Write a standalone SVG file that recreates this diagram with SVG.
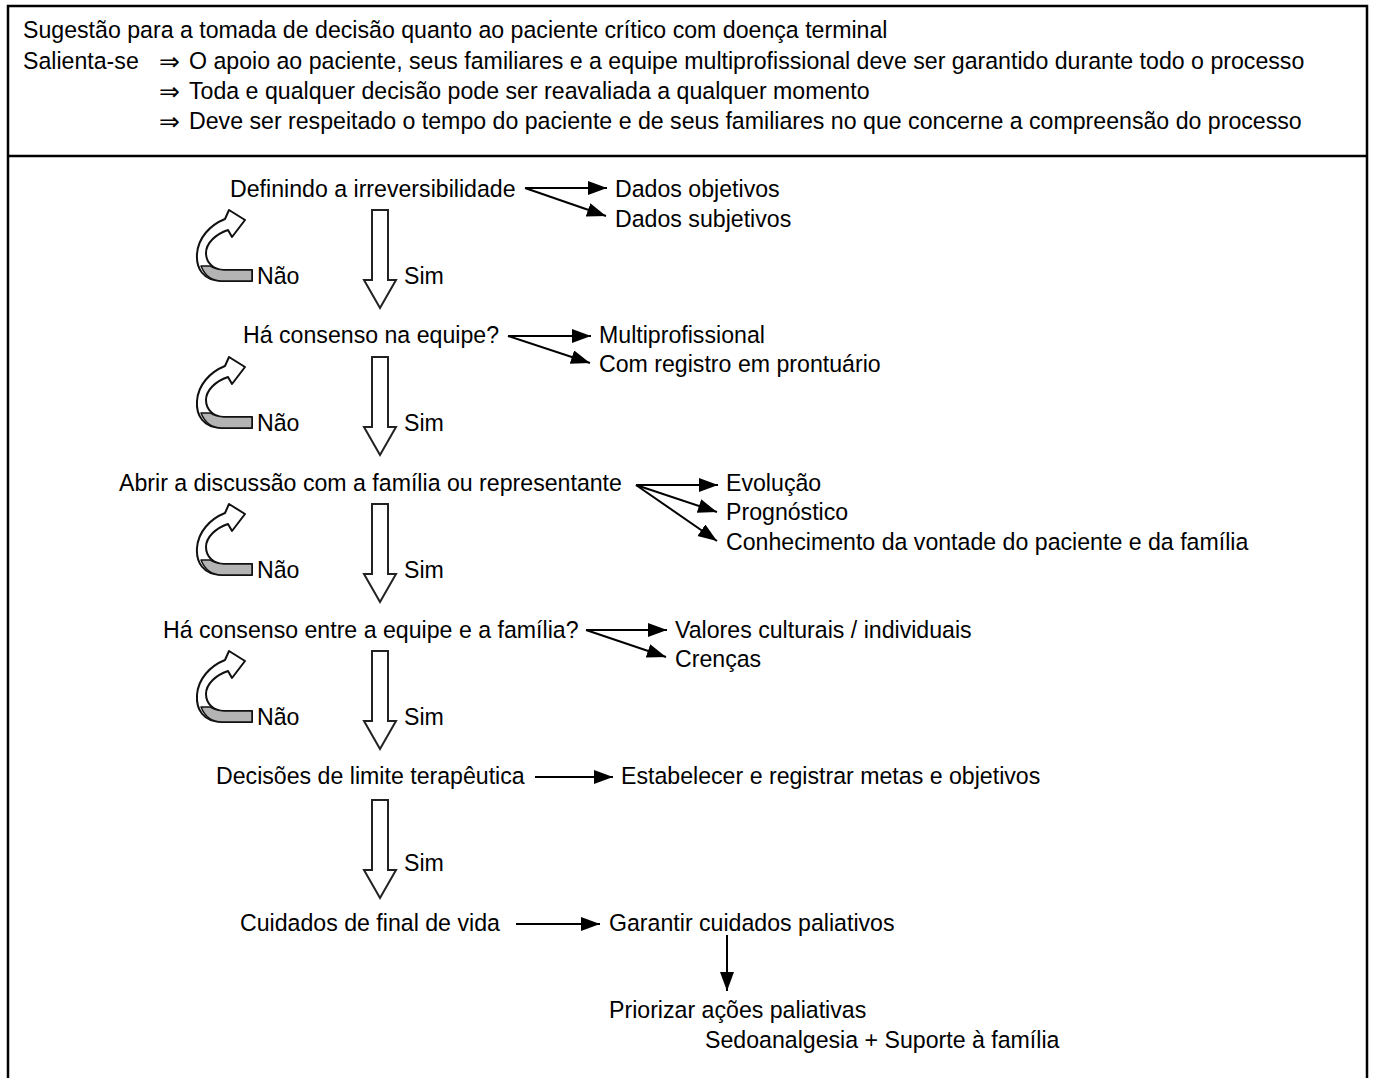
<svg xmlns="http://www.w3.org/2000/svg" xmlns:xlink="http://www.w3.org/1999/xlink" width="1373" height="1078" viewBox="0 0 1373 1078">
<style>
text{font-family:"Liberation Sans","DejaVu Sans",Arial,sans-serif;font-size:23.15px;fill:#000}
.imp{font-family:"DejaVu Sans","Liberation Sans",sans-serif;font-size:25px}
.frame{fill:none;stroke:#000;stroke-width:2.5}
.conn{fill:none;stroke:#000;stroke-width:2}
.hollow{fill:#fff;stroke:#222;stroke-width:2;stroke-linejoin:miter}
.curve{fill:#fff;stroke:#111;stroke-width:2;stroke-linejoin:round}
.under{fill:#b4b4b4;stroke:#111;stroke-width:1.5;stroke-linejoin:round}
</style>
<defs>
<marker id="ah" markerUnits="userSpaceOnUse" markerWidth="22" markerHeight="16" refX="19" refY="7" orient="auto">
<path d="M0,0 L19,7 L0,14 Z" fill="#000"/>
</marker>
<path id="down" class="hollow" d="M372,0 L388,0 L388,70 L396,70 L380,98 L364,70 L372,70 Z"/>
<g id="loop">
<path class="curve" d="M252,281 L222,281 C203,281 196,268 197,254 C198,238 210,225 225,219 L229,210 L245,220 L232,237 L228,230 C216,234 206,243 206,253 C206,263 214,270 224,270 L252,270 Z"/>
<path class="under" d="M201,266 C205,276 212,281 222,281 L252,281 L252,270 L224,270 C218,270 213,268 210,266 Z"/>
</g>
</defs>
<rect width="1373" height="1078" fill="#fff"/>
<g id="frame">
<path class="frame" d="M8,1080 L8,6 L1367,6 L1367,1080 M8,156 L1367,156"/>
</g>
<g id="header">
<text x="23" y="38">Sugestão para a tomada de decisão quanto ao paciente crítico com doença terminal</text>
<text x="23" y="69">Salienta-se</text>
<text class="imp" x="159" y="70">⇒</text>
<text x="189" y="69">O apoio ao paciente, seus familiares e a equipe multiprofissional deve ser garantido durante todo o processo</text>
<text class="imp" x="159" y="100">⇒</text>
<text x="189" y="99">Toda e qualquer decisão pode ser reavaliada a qualquer momento</text>
<text class="imp" x="159" y="130">⇒</text>
<text x="189" y="129">Deve ser respeitado o tempo do paciente e de seus familiares no que concerne a compreensão do processo</text>
</g>
<g id="n-irreversibilidade"><text x="230" y="197">Definindo a irreversibilidade</text></g>
<g id="n-dados-objetivos"><text x="615" y="197">Dados objetivos</text></g>
<g id="n-dados-subjetivos"><text x="615" y="227">Dados subjetivos</text></g>
<g id="n-consenso-equipe"><text x="243" y="343">Há consenso na equipe?</text></g>
<g id="n-multiprofissional"><text x="599" y="343">Multiprofissional</text></g>
<g id="n-registro"><text x="599" y="372">Com registro em prontuário</text></g>
<g id="n-discussao"><text x="119" y="491">Abrir a discussão com a família ou representante</text></g>
<g id="n-evolucao"><text x="726" y="491">Evolução</text></g>
<g id="n-prognostico"><text x="726" y="520">Prognóstico</text></g>
<g id="n-vontade"><text x="726" y="550">Conhecimento da vontade do paciente e da família</text></g>
<g id="n-consenso-familia"><text x="163" y="638">Há consenso entre a equipe e a família?</text></g>
<g id="n-valores"><text x="675" y="638">Valores culturais / individuais</text></g>
<g id="n-crencas"><text x="675" y="667">Crenças</text></g>
<g id="n-limite"><text x="216" y="784">Decisões de limite terapêutica</text></g>
<g id="n-metas"><text x="621" y="784">Estabelecer e registrar metas e objetivos</text></g>
<g id="n-final-vida"><text x="240" y="931">Cuidados de final de vida</text></g>
<g id="n-garantir"><text x="609" y="931">Garantir cuidados paliativos</text></g>
<g id="n-priorizar"><text x="609" y="1018">Priorizar ações paliativas</text><text x="705" y="1048">Sedoanalgesia + Suporte à família</text></g>
<g id="connectors">
<line class="conn" x1="525" y1="188" x2="607" y2="188" marker-end="url(#ah)"/>
<line class="conn" x1="525" y1="188" x2="606" y2="216" marker-end="url(#ah)"/>
<line class="conn" x1="508" y1="336" x2="591" y2="336" marker-end="url(#ah)"/>
<line class="conn" x1="508" y1="336" x2="590" y2="363" marker-end="url(#ah)"/>
<line class="conn" x1="636" y1="485" x2="718" y2="485" marker-end="url(#ah)"/>
<line class="conn" x1="636" y1="485" x2="717" y2="512" marker-end="url(#ah)"/>
<line class="conn" x1="636" y1="485" x2="717" y2="541" marker-end="url(#ah)"/>
<line class="conn" x1="586" y1="630" x2="667" y2="630" marker-end="url(#ah)"/>
<line class="conn" x1="586" y1="630" x2="666" y2="657" marker-end="url(#ah)"/>
<line class="conn" x1="535" y1="777" x2="613" y2="777" marker-end="url(#ah)"/>
<line class="conn" x1="516" y1="924" x2="600" y2="924" marker-end="url(#ah)"/>
<line class="conn" x1="727" y1="935" x2="727" y2="991" marker-end="url(#ah)"/>
<use xlink:href="#down" href="#down" transform="translate(0,210)"/>
<use xlink:href="#down" href="#down" transform="translate(0,357)"/>
<use xlink:href="#down" href="#down" transform="translate(0,504)"/>
<use xlink:href="#down" href="#down" transform="translate(0,651)"/>
<use xlink:href="#down" href="#down" transform="translate(0,800)"/>
<use xlink:href="#loop" href="#loop"/>
<use xlink:href="#loop" href="#loop" transform="translate(0,147)"/>
<use xlink:href="#loop" href="#loop" transform="translate(0,294)"/>
<use xlink:href="#loop" href="#loop" transform="translate(0,441)"/>
</g>
<g id="labels">
<text x="257" y="284">Não</text><text x="404" y="284">Sim</text>
<text x="257" y="431">Não</text><text x="404" y="431">Sim</text>
<text x="257" y="578">Não</text><text x="404" y="578">Sim</text>
<text x="257" y="725">Não</text><text x="404" y="725">Sim</text>
<text x="404" y="871">Sim</text>
</g>
</svg>
